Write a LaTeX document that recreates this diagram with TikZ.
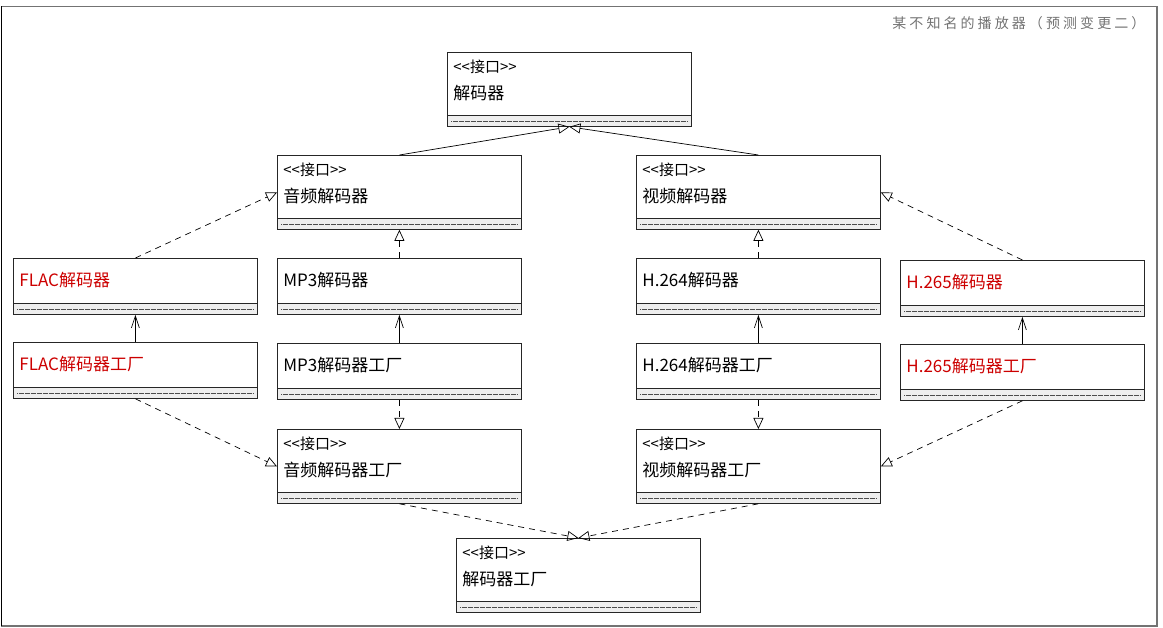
\documentclass[tikz,border=0pt]{standalone}
\usepackage{fontspec}
\setmainfont{Noto Sans CJK SC}
\newfontfamily\titlefont[LetterSpace=22]{Noto Sans CJK SC}
\usepackage{tikz}
\usetikzlibrary{arrows.meta}
\definecolor{concrete}{RGB}{204,0,0}
\definecolor{compart}{RGB}{238,238,238}
\tikzstyle{box} = [rectangle,
anchor=north west,
minimum width=244pt,
inner sep=0pt,
text width=232pt,
align=left,
draw=black!85,
line width=0.8pt,
font=\fontsize{17}{27}\selectfont,
path picture={
  \fill[compart] ([yshift=11pt]path picture bounding box.south west) rectangle (path picture bounding box.south east);
  \draw[black!85, line width=0.8pt] ([yshift=11pt]path picture bounding box.south west) -- ([yshift=11pt]path picture bounding box.south east);
  \draw[black!70, line width=0.5pt, dash pattern=on 0.5pt off 0.7pt] ([xshift=4pt,yshift=5.5pt]path picture bounding box.south west) -- ([xshift=-4pt,yshift=5.5pt]path picture bounding box.south east);
}]
\tikzstyle{iface} = [box,
minimum height=74pt,
text height=10pt,
text depth=44pt]
\tikzstyle{cls} = [box,
minimum height=56pt,
text height=10pt,
text depth=10pt]
\tikzstyle{extends} = [line width=0.7pt, -{Triangle[open, length=11pt, width=10pt]}]
\tikzstyle{implements} = [extends, dash pattern=on 6pt off 5pt]
\tikzstyle{uses} = [line width=0.7pt, -{Straight Barb[length=12pt, width=8pt]}]
\newcommand{\stereo}{{\fontsize{15}{16}\selectfont <{}<接口>{}>}}

\begin{document}
\begin{tikzpicture}[x=1pt, y=-1pt]
    \useasboundingbox (0,0) rectangle (1163,628);

    % frame and title
    \draw[black!55, line width=1.5pt] (1.5,6.5) rectangle (1157,626);
    \draw[black, line width=1.5pt] (1.5,6.5) -- (1.5,626);
    \node (title) [anchor=east, text=black!55, font=\titlefont\fontsize{14}{16}\selectfont] at (1149,23) {某不知名的播放器（预测变更二）};

    % interfaces
    \node (dec) [iface] at (447,52) {\stereo\\解码器};
    \node (adec) [iface] at (277,155) {\stereo\\音频解码器};
    \node (vdec) [iface] at (636,155) {\stereo\\视频解码器};
    \node (adecf) [iface] at (277,429) {\stereo\\音频解码器工厂};
    \node (vdecf) [iface] at (636,429) {\stereo\\视频解码器工厂};
    \node (decf) [iface] at (456,538) {\stereo\\解码器工厂};

    % decoders
    \node (flac) [cls, text=concrete] at (13,258) {FLAC解码器};
    \node (mp3) [cls] at (277,258) {MP3解码器};
    \node (h264) [cls] at (636,258) {H.264解码器};
    \node (h265) [cls, text=concrete] at (900,260) {H.265解码器};

    % factories
    \node (flacf) [cls, text=concrete] at (13,342) {FLAC解码器工厂};
    \node (mp3f) [cls] at (277,343) {MP3解码器工厂};
    \node (h264f) [cls] at (636,343) {H.264解码器工厂};
    \node (h265f) [cls, text=concrete] at (900,344) {H.265解码器工厂};

    \draw [extends] (adec.north) -- (dec.south);
    \draw [extends] (vdec.north) -- (dec.south);
    \draw [implements] (flac.north) -- (adec.west);
    \draw [implements] (mp3.north) -- (adec.south);
    \draw [implements] (h264.north) -- (vdec.south);
    \draw [implements] (h265.north) -- (vdec.east);

    \draw [uses] (flacf.north) -- (flac.south);
    \draw [uses] (mp3f.north) -- (mp3.south);
    \draw [uses] (h264f.north) -- (h264.south);
    \draw [uses] (h265f.north) -- (h265.south);

    \draw [implements] (flacf.south) -- (adecf.west);
    \draw [implements] (mp3f.south) -- (adecf.north);
    \draw [implements] (h264f.south) -- (vdecf.north);
    \draw [implements] (h265f.south) -- (vdecf.east);
    \draw [implements] (adecf.south) -- (decf.north);
    \draw [implements] (vdecf.south) -- (decf.north);

\end{tikzpicture}
\end{document}
